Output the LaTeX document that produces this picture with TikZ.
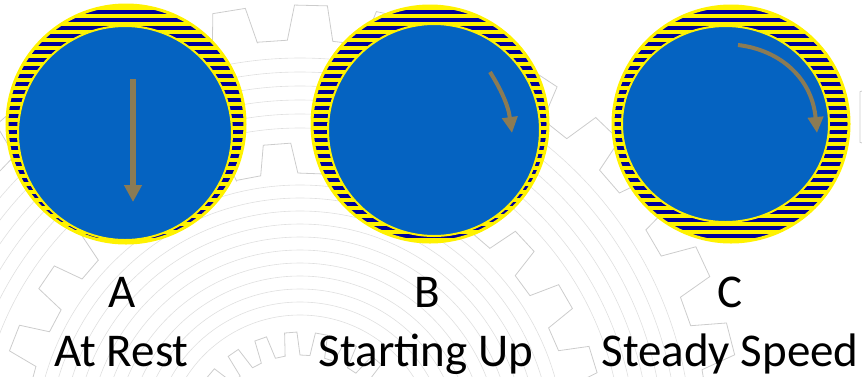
\documentclass[tikz,border=0pt]{standalone}
\usepackage{fontspec}
\setmainfont{Carlito}
\usepackage{tikz}
\usetikzlibrary{arrows.meta}

\definecolor{discblue}{RGB}{5,99,193}
\definecolor{ballnavy}{RGB}{0,0,153}
\definecolor{arrowtan}{RGB}{139,123,84}

% toothed ring: root radius, tip radius, teeth, start angle
\newcommand\gearring[4]{%
  \pgfmathsetmacro\gp{360/#3}%
  \pgfmathtruncatemacro\gn{#3-1}%
  \draw[gearline] (#4:#1) \foreach \k in {0,...,\gn} {
      -- ({#4+(\k+0.4)*\gp}:#1) -- ({#4+(\k+0.5)*\gp}:#2)
      -- ({#4+(\k+0.9)*\gp}:#2) -- ({#4+(\k+1)*\gp}:#1)} -- cycle;
}
% striped outer race: centre x, centre y, radius
\newcommand\outerrace[3]{%
  \begin{scope}
    \clip (#1,#2) circle (#3);
    \fill[yellow] (#1,#2) circle (#3);
    \foreach \sy in {2,10,...,250}
      \fill[ballnavy] (#1-#3,\sy) rectangle (#1+#3,\sy+4);
  \end{scope}
  \draw[yellow, line width=3pt] (#1,#2) circle (#3);
}

\begin{document}
\begin{tikzpicture}[x=1pt, y=-1pt,
    gearline/.style={gray!40, line width=0.8pt},
    ringline/.style={gray!25, line width=0.6pt},
    shaft/.style={fill=discblue, draw=yellow, line width=2pt},
    motion/.style={draw=arrowtan, line width=#1},
    label/.style={anchor=base, font=\fontsize{47}{50}\selectfont}]
    \useasboundingbox (0,0) rectangle (862,376);

    % Faint gear drawing behind everything
    \begin{scope}
        \clip (0,0) rectangle (862,376);
        \begin{scope}[shift={(300,450)}]
            \gearring{410}{445}{34}{264}
            \foreach \r in {322,336,...,392}
                \draw[ringline] (0,0) circle (\r);
            \gearring{277}{307}{28}{256.7}
            \foreach \r in {135,148,...,265}
                \draw[ringline] (0,0) circle (\r);
            \gearring{95}{118}{24}{0}
        \end{scope}
        \begin{scope}[shift={(1020,117)}]
            \gearring{140}{162}{8}{148.5}
        \end{scope}
    \end{scope}

    % Bearing A: shaft resting on the bottom
    \outerrace{126}{124}{119}
    \draw[shaft] (125,133) circle (107);
    \coordinate (a1) at (133,79);
    \coordinate (a2) at (133,202);
    \draw[motion=5.5pt, -{Triangle[width=17pt,length=17pt]}] (a1) -- (a2);

    % Bearing B: shaft starting to climb
    \outerrace{430}{124}{118}
    \draw[shaft] (434,130) circle (106);
    \coordinate (b1) at (490,72);
    \coordinate (b2) at (512,133);
    \draw[motion=4pt, -{Triangle[width=15pt,length=16pt]}]
        (b1) .. controls (500,88) and (508,104) .. (b2);

    % Bearing C: shaft on its oil wedge
    \outerrace{731}{124}{118}
    \draw[shaft] (725.5,124) ellipse (103.5 and 98);
    \coordinate (c1) at (738,45);
    \coordinate (c2) at (817,133);
    \draw[motion=4pt, -{Triangle[width=15pt,length=16pt]}]
        (c1) .. controls (780,50) and (812,78) .. (c2);

    % Captions
    \node[label] (lblA) at (122.5,307) {A};
    \node[label] (capA) at (121.5,366) {At Rest};
    \node[label] (lblB) at (427,307) {B};
    \node[label] (capB) at (426,366) {Starting Up};
    \node[label] (lblC) at (730,307) {C};
    \node[label] (capC) at (730,366) {Steady Speed};
\end{tikzpicture}
\end{document}
